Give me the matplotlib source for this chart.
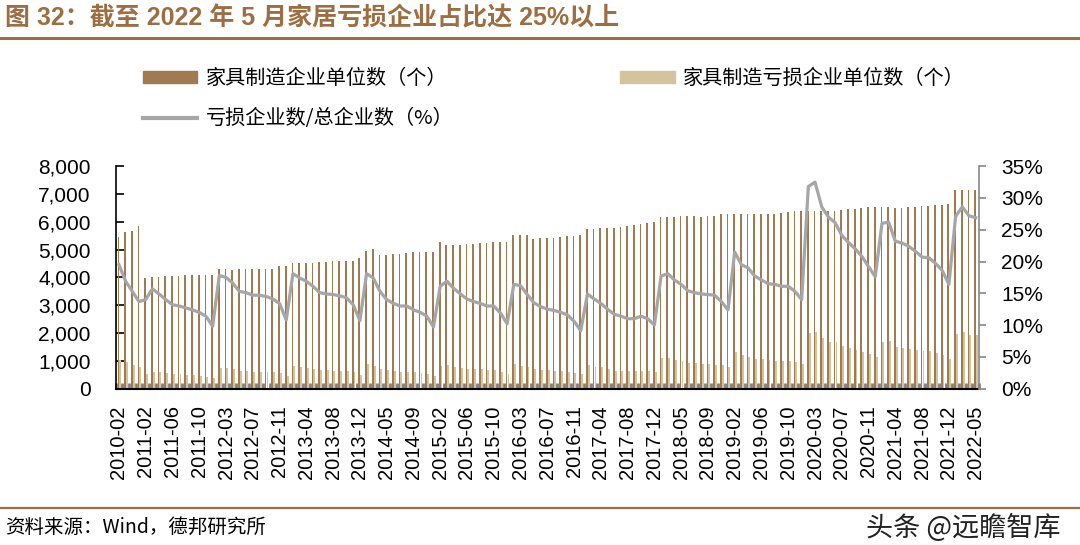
import numpy as np
import matplotlib
matplotlib.use("Agg")
import matplotlib.pyplot as plt
from matplotlib.lines import Line2D
from matplotlib.patches import Patch
from matplotlib.ticker import FuncFormatter, MultipleLocator

plt.rcParams['font.family'] = ['Liberation Sans', 'Noto Sans CJK SC', 'DejaVu Sans']

# 月份: 2010 年只有 4 个点, 之后每年 2-12 月 (1 月与 2 月合并)
months = ['2010-02', '2010-05', '2010-08', '2010-11']
for yr in range(2011, 2023):
    last = 5 if yr == 2022 else 12
    for m in range(2, last + 1):
        months.append('%d-%02d' % (yr, m))

# 家具制造企业单位数 (个)
total = [5450, 5650, 5680, 5850,
         3990, 4020, 4020, 4050, 4050, 4050, 4070, 4070, 4070, 4100, 4100,
         4300, 4300, 4280, 4300, 4300, 4300, 4320, 4320, 4320, 4400, 4400,
         4530, 4530, 4530, 4530, 4550, 4550, 4590, 4590, 4590, 4590, 4700,
         4940, 5020, 4800, 4800, 4840, 4860, 4890, 4900, 4920, 4920, 4920,
         5290, 5170, 5170, 5180, 5190, 5190, 5230, 5250, 5290, 5290, 5270,
         5540, 5540, 5540, 5380, 5410, 5420, 5430, 5450, 5480, 5500, 5530,
         5750, 5750, 5770, 5770, 5780, 5830, 5850, 5870, 5910, 5950, 5980,
         6170, 6170, 6170, 6200, 6210, 6210, 6170, 6200, 6210, 6280, 6280,
         6280, 6280, 6280, 6270, 6280, 6280, 6280, 6330, 6350, 6380, 6390,
         6400, 6380, 6380, 6390, 6400, 6430, 6450, 6460, 6490, 6520, 6520,
         6520, 6520, 6510, 6510, 6520, 6530, 6560, 6560, 6590, 6620, 6630,
         7150, 7150, 7150, 7150]

# 家具制造亏损企业单位数 (个)
loss = [1030, 940, 850, 790,
        540, 610, 590, 550, 520, 520, 490, 490, 460, 430, 370,
        730, 730, 700, 650, 640, 600, 600, 600, 590, 550, 460,
        800, 770, 730, 700, 670, 670, 650, 650, 620, 580, 490,
        880, 820, 700, 670, 640, 610, 610, 580, 550, 530, 460,
        820, 850, 790, 730, 710, 700, 700, 670, 670, 610, 520,
        880, 830, 790, 710, 670, 670, 650, 630, 580, 560, 510,
        850, 790, 760, 700, 650, 640, 640, 640, 650, 640, 600,
        1090, 1090, 1030, 1000, 910, 910, 890, 890, 850, 850, 770,
        1330, 1210, 1150, 1070, 1060, 1030, 1010, 1010, 1010, 940, 890,
        1990, 2050, 1810, 1690, 1660, 1540, 1450, 1390, 1330, 1250, 1150,
        1660, 1720, 1490, 1450, 1420, 1390, 1360, 1360, 1270, 1210, 1070,
        1960, 2030, 1930, 1920]

# 亏损企业数/总企业数 (%)
ratio = [19.5, 16.9, 15.3, 13.7,
         14.0, 15.7, 14.9, 14.0, 13.2, 13.0, 12.7, 12.4, 12.0, 11.4, 9.8,
         17.8, 17.5, 16.6, 15.3, 15.1, 14.7, 14.7, 14.5, 14.1, 13.4, 10.8,
         18.1, 17.4, 16.9, 16.1, 15.1, 14.9, 14.8, 14.6, 14.3, 13.2, 10.7,
         18.1, 17.4, 15.3, 14.0, 13.4, 13.0, 13.0, 12.4, 12.0, 11.4, 9.7,
         16.1, 16.9, 15.8, 14.9, 14.1, 13.7, 13.4, 13.0, 13.0, 11.9, 10.2,
         16.4, 16.2, 14.8, 13.5, 12.9, 12.5, 12.3, 12.0, 11.6, 10.6, 9.1,
         14.9, 14.1, 13.4, 12.5, 11.7, 11.4, 11.0, 11.0, 11.4, 11.0, 10.0,
         17.7, 18.1, 17.1, 16.4, 15.4, 15.1, 14.9, 14.8, 14.7, 13.7, 12.4,
         21.5, 19.5, 19.0, 17.7, 17.1, 16.5, 16.4, 16.1, 16.1, 15.3, 14.0,
         31.8, 32.5, 28.6, 27.0, 26.1, 24.1, 23.0, 22.0, 20.8, 19.2, 17.6,
         26.0, 26.2, 23.2, 22.9, 22.4, 21.6, 20.7, 20.6, 19.7, 18.6, 16.4,
         27.1, 28.6, 27.2, 26.9]

dark = '#A07A50'
light = '#D4C39C'
grey = '#A6A6A6'
brown = '#9C6E42'

fig = plt.figure(figsize=(10.8, 5.45), dpi=100)
ax = fig.add_axes([0.107, 0.287, 0.7995, 0.408])

x = np.arange(len(months))
ax.bar(x - 0.08, total, 0.26, color=dark, zorder=2)
ax.bar(x + 0.2, loss, 0.28, color=light, zorder=2)
ax.set_xlim(-0.5, len(months) - 0.5)
ax.set_ylim(0, 8000)
ax.yaxis.set_major_locator(MultipleLocator(1000))
ax.yaxis.set_major_formatter(FuncFormatter(lambda v, p: '{:,.0f}'.format(v)))
ax.tick_params(axis='y', direction='in', length=6, width=1.2, labelsize=15, pad=18)

ax.set_xticks(x[::4])
ax.set_xticklabels(months[::4], rotation=90, fontsize=14.5)
ax.set_xticks(np.arange(-0.5, len(months)), minor=True)
ax.tick_params(axis='x', which='major', length=0, pad=12)
ax.tick_params(axis='x', which='minor', direction='in', length=4, width=2, color='#808080')
for s in ['top', 'right']:
    ax.spines[s].set_visible(False)
ax.spines['left'].set_linewidth(1.2)
ax.spines['bottom'].set_linewidth(1.5)

ax2 = ax.twinx()
ax2.plot(x, ratio, color=grey, lw=2.3, solid_joinstyle='round')
ax2.set_ylim(0, 35)
ax2.yaxis.set_major_locator(MultipleLocator(5))
ax2.yaxis.set_major_formatter(FuncFormatter(lambda v, p: '%d%%' % v))
ax2.tick_params(axis='y', direction='out', length=5, width=1.2, color='#888888', labelsize=15, pad=11)
for s in ['top', 'left', 'bottom']:
    ax2.spines[s].set_visible(False)
ax2.spines['right'].set_color('#888888')
ax2.spines['right'].set_linewidth(1.2)

handles = [Patch(color=dark), Line2D([], [], color=grey, lw=3), Patch(color=light)]
labels = ['家具制造企业单位数（个）', '亏损企业数/总企业数（%）', '家具制造亏损企业单位数（个）']
fig.legend(handles, labels, loc='upper left', bbox_to_anchor=(143 / 1080, 1 - 68 / 545),
           ncol=2, frameon=False, borderpad=0, borderaxespad=0,
           prop={'family': ['Noto Sans CJK SC'], 'size': 14.5},
           handlelength=2.7, handleheight=0.55, handletextpad=0.4,
           columnspacing=8.3, labelspacing=0.95)

fig.text(5 / 1080, 1 - 18 / 545, '图 32：截至 2022 年 5 月家居亏损企业占比达 25%以上',
         color=brown, fontsize=18, fontweight='bold', va='center', ha='left')
fig.add_artist(Line2D([0, 1], [1 - 38 / 545, 1 - 38 / 545], color=brown, lw=2.2))
fig.add_artist(Line2D([0, 1], [1 - 508 / 545, 1 - 508 / 545], color=brown, lw=1.6))
fig.text(5 / 1080, 1 - 527 / 545, '资料来源：Wind，德邦研究所', fontsize=14,
         va='center', ha='left', family=['Noto Sans CJK SC'])
fig.text(866 / 1080, 1 - 528 / 545, '头条 @远瞻智库', fontsize=19.5,
         va='center', ha='left', family=['Noto Sans CJK SC'], color='#222222')

fig.savefig('out.png', dpi=100)
